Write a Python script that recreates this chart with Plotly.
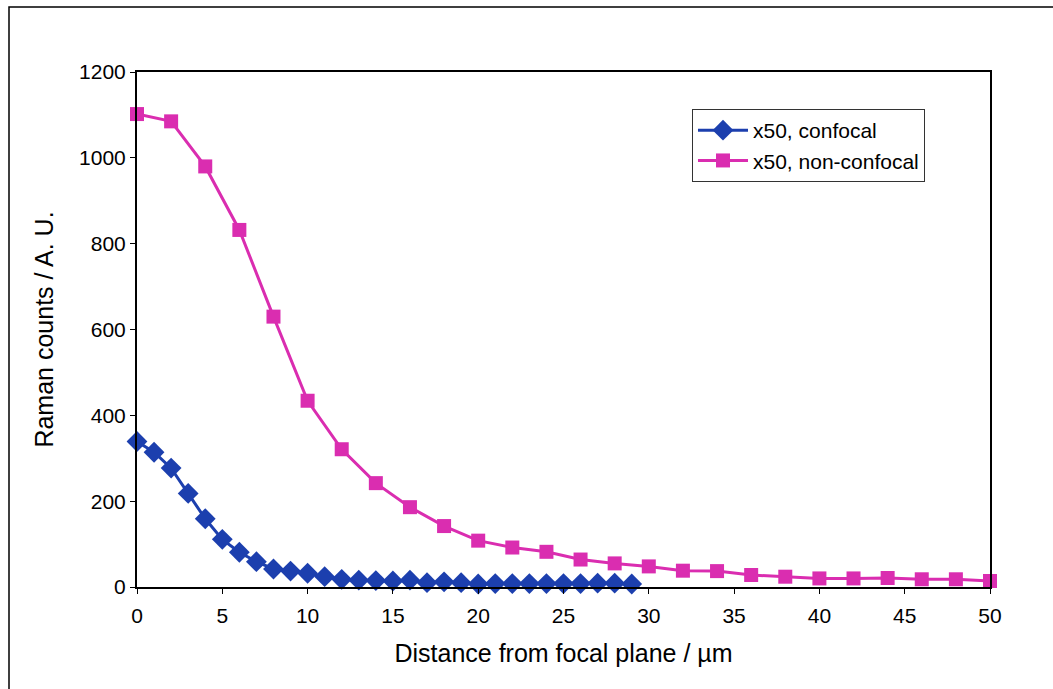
import plotly.graph_objects as go

conf_x = list(range(0, 30))
conf_y = [339, 314, 277, 218, 159, 111, 81, 59, 42, 37, 32, 24, 18, 16, 15, 14, 16, 10, 12, 10,
          7, 8, 8, 8, 8, 8, 8, 9, 9, 7]
nonconf_x = list(range(0, 52, 2))
nonconf_y = [1102, 1085, 980, 832, 630, 434, 321, 242, 186, 142, 108, 92, 82, 64, 55, 48,
             38, 37, 28, 24, 20, 20, 21, 18, 18, 14]

x_ticks = list(range(0, 55, 5))
y_ticks = list(range(0, 1400, 200))

blue = "#1C3FAE"
magenta = "#DA2DB0"
font_family = "Liberation Sans, Arial, sans-serif"

fig = go.Figure()
fig.add_trace(go.Scatter(
    x=conf_x, y=conf_y, mode="lines+markers", name="x50, confocal",
    line=dict(color=blue, width=3),
    marker=dict(symbol="diamond", size=16, color=blue),
    cliponaxis=False,
))
fig.add_trace(go.Scatter(
    x=nonconf_x, y=nonconf_y, mode="lines+markers", name="x50, non-confocal",
    line=dict(color=magenta, width=3),
    marker=dict(symbol="square", size=14, color=magenta),
    cliponaxis=False,
))

L, R, T, B = 137, 63, 72, 102
W, H = 1053, 689
pw, ph = W - L - R, H - T - B

fig.update_layout(
    width=W, height=H,
    margin=dict(l=L, r=R, t=T, b=B),
    paper_bgcolor="white", plot_bgcolor="white",
    font=dict(family=font_family, color="black", size=21),
    showlegend=True,
    legend=dict(
        x=(692 - L) / pw, y=1 - (109 - T) / ph, xanchor="left", yanchor="top",
        bordercolor="#333333", borderwidth=1, bgcolor="white",
        font=dict(size=21, family=font_family),
        itemwidth=50, tracegroupgap=0,
    ),
    xaxis=dict(
        range=[0, 50], tickvals=x_ticks, ticktext=[str(v) for v in x_ticks],
        showgrid=False, zeroline=False, showline=True, linecolor="black", linewidth=2,
        mirror=True, ticks="outside", ticklen=5, tickcolor="black",
        ticklabelstandoff=4,
        title=dict(text="Distance from focal plane / µm", font=dict(size=25), standoff=18),
        tickfont=dict(size=21),
    ),
    yaxis=dict(
        range=[0, 1200], tickvals=y_ticks, ticktext=[str(v) for v in y_ticks],
        showgrid=False, zeroline=False, showline=True, linecolor="black", linewidth=2,
        mirror=True, ticks="outside", ticklen=5, tickcolor="black",
        title=dict(text="Raman counts / A. U.", font=dict(size=25), standoff=18),
        tickfont=dict(size=21),
    ),
    shapes=[dict(
        type="rect", xref="paper", yref="paper",
        x0=(9 - L) / pw, x1=(1070 - L) / pw,
        y0=1 - (705 - T) / ph, y1=1 + (T - 7) / ph,
        line=dict(color="black", width=1.5), fillcolor="rgba(0,0,0,0)", layer="below",
    )],
)

fig.write_html("out.html")
